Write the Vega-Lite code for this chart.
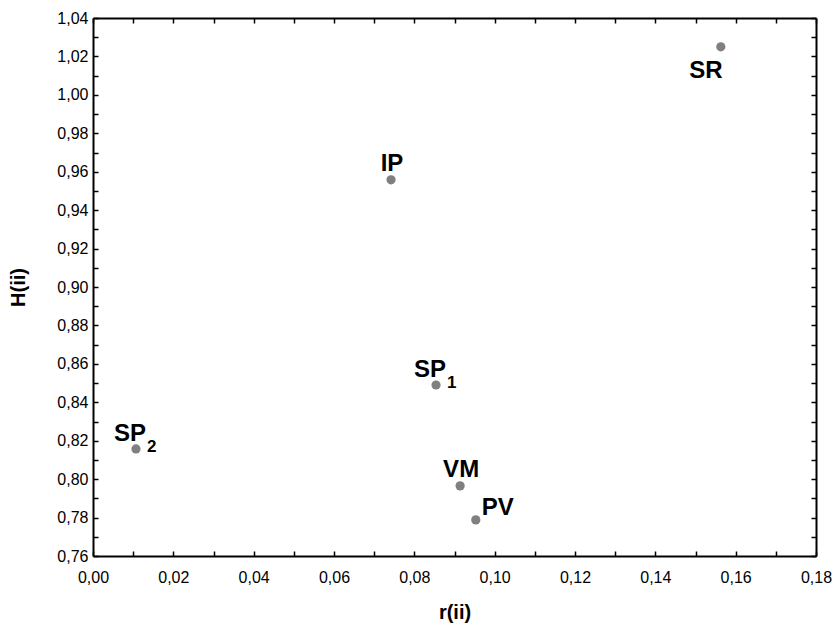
{
  "$schema": "https://vega.github.io/schema/vega-lite/v6.json",
  "autosize": "none",
  "width": 723,
  "height": 538,
  "padding": {"left": 93, "top": 18, "right": 19, "bottom": 71},
  "background": "white",
  "config": {
    "view": {"stroke": null},
    "locale": {"number": {"decimal": ",", "thousands": ".", "grouping": [3], "currency": ["", ""]}},
    "font": "Liberation Sans",
    "axis": {
      "grid": false,
      "domainColor": "black",
      "domainWidth": 2,
      "tickColor": "black",
      "tickWidth": 1.5,
      "tickSize": -5,
      "labelFont": "Liberation Sans",
      "labelFontSize": 16,
      "labelColor": "black",
      "titleFont": "Liberation Sans",
      "titleFontSize": 20,
      "titleFontWeight": "bold",
      "titleColor": "black"
    }
  },
  "data": {
    "values": [
      {"r": 0.1563, "H": 1.025, "label": "SR", "sub": ""},
      {"r": 0.0742, "H": 0.9558, "label": "IP", "sub": ""},
      {"r": 0.0854, "H": 0.849, "label": "SP", "sub": "1"},
      {"r": 0.0107, "H": 0.8157, "label": "SP", "sub": "2"},
      {"r": 0.0914, "H": 0.7965, "label": "VM", "sub": ""},
      {"r": 0.0953, "H": 0.7788, "label": "PV", "sub": ""}
    ]
  },
  "layer": [
    {
      "mark": {"type": "point", "filled": true, "opacity": 1, "color": "#808080", "size": 85},
      "encoding": {
        "x": {"field": "r", "type": "quantitative", "title": "r(ii)",
          "scale": {"domain": [0, 0.18], "nice": false, "zero": false},
          "axis": {"orient": "bottom", "values": [0,0.01,0.02,0.03,0.04,0.05,0.06,0.07,0.08,0.09,0.1,0.11,0.12,0.13,0.14,0.15,0.16,0.17,0.18],
            "format": ".2f", "labelExpr": "round(datum.value*100) % 2 == 0 ? datum.label : ''", "labelPadding": 18, "titlePadding": 17, "labelFlush": false}},
        "y": {"field": "H", "type": "quantitative", "title": "H(ii)",
          "scale": {"domain": [0.76, 1.04], "nice": false, "zero": false},
          "axis": {"orient": "left", "values": [0.76,0.77,0.78,0.79,0.8,0.81,0.82,0.83,0.84,0.85,0.86,0.87,0.88,0.89,0.9,0.91,0.92,0.93,0.94,0.95,0.96,0.97,0.98,0.99,1,1.01,1.02,1.03,1.04],
            "format": ".2f", "labelExpr": "round(datum.value*100) % 2 == 0 ? datum.label : ''", "labelPadding": 10, "titlePadding": 28, "labelFlush": false}}
      }
    },
    {
      "mark": {"type": "point", "opacity": 0},
      "encoding": {
        "x": {"field": "r", "type": "quantitative",
          "axis": {"orient": "top", "title": null, "labels": false, "values": [0,0.01,0.02,0.03,0.04,0.05,0.06,0.07,0.08,0.09,0.1,0.11,0.12,0.13,0.14,0.15,0.16,0.17,0.18]}},
        "y": {"field": "H", "type": "quantitative",
          "axis": {"orient": "right", "title": null, "labels": false, "values": [0.76,0.77,0.78,0.79,0.8,0.81,0.82,0.83,0.84,0.85,0.86,0.87,0.88,0.89,0.9,0.91,0.92,0.93,0.94,0.95,0.96,0.97,0.98,0.99,1,1.01,1.02,1.03,1.04]}}
      }
    },
    {
      "transform": [{"filter": "datum.label == 'IP' || datum.label == 'VM'"}],
      "mark": {"type": "text", "font": "Liberation Sans", "fontWeight": "bold", "fontSize": 24, "align": "center", "baseline": "alphabetic", "dy": -9, "dx": 1, "color": "black"},
      "encoding": {"x": {"field": "r", "type": "quantitative", "axis": null}, "y": {"field": "H", "type": "quantitative", "axis": null}, "text": {"field": "label"}}
    },
    {
      "transform": [{"filter": "datum.label == 'SP'"}],
      "mark": {"type": "text", "font": "Liberation Sans", "fontWeight": "bold", "fontSize": 24, "align": "right", "baseline": "alphabetic", "dy": -8, "dx": 10, "color": "black"},
      "encoding": {"x": {"field": "r", "type": "quantitative", "axis": null}, "y": {"field": "H", "type": "quantitative", "axis": null}, "text": {"field": "label"}}
    },
    {
      "transform": [{"filter": "datum.label == 'SP'"}],
      "mark": {"type": "text", "font": "Liberation Sans", "fontWeight": "bold", "fontSize": 17, "align": "left", "baseline": "alphabetic", "dy": 3, "dx": 11, "color": "black"},
      "encoding": {"x": {"field": "r", "type": "quantitative", "axis": null}, "y": {"field": "H", "type": "quantitative", "axis": null}, "text": {"field": "sub"}}
    },
    {
      "transform": [{"filter": "datum.label == 'PV'"}],
      "mark": {"type": "text", "font": "Liberation Sans", "fontWeight": "bold", "fontSize": 24, "align": "left", "baseline": "alphabetic", "dy": -5, "dx": 6, "color": "black"},
      "encoding": {"x": {"field": "r", "type": "quantitative", "axis": null}, "y": {"field": "H", "type": "quantitative", "axis": null}, "text": {"field": "label"}}
    },
    {
      "transform": [{"filter": "datum.label == 'SR'"}],
      "mark": {"type": "text", "font": "Liberation Sans", "fontWeight": "bold", "fontSize": 24, "align": "center", "baseline": "alphabetic", "dy": 31, "dx": -15, "color": "black"},
      "encoding": {"x": {"field": "r", "type": "quantitative", "axis": null}, "y": {"field": "H", "type": "quantitative", "axis": null}, "text": {"field": "label"}}
    }
  ],
  "resolve": {"axis": {"x": "independent", "y": "independent"}}
}
